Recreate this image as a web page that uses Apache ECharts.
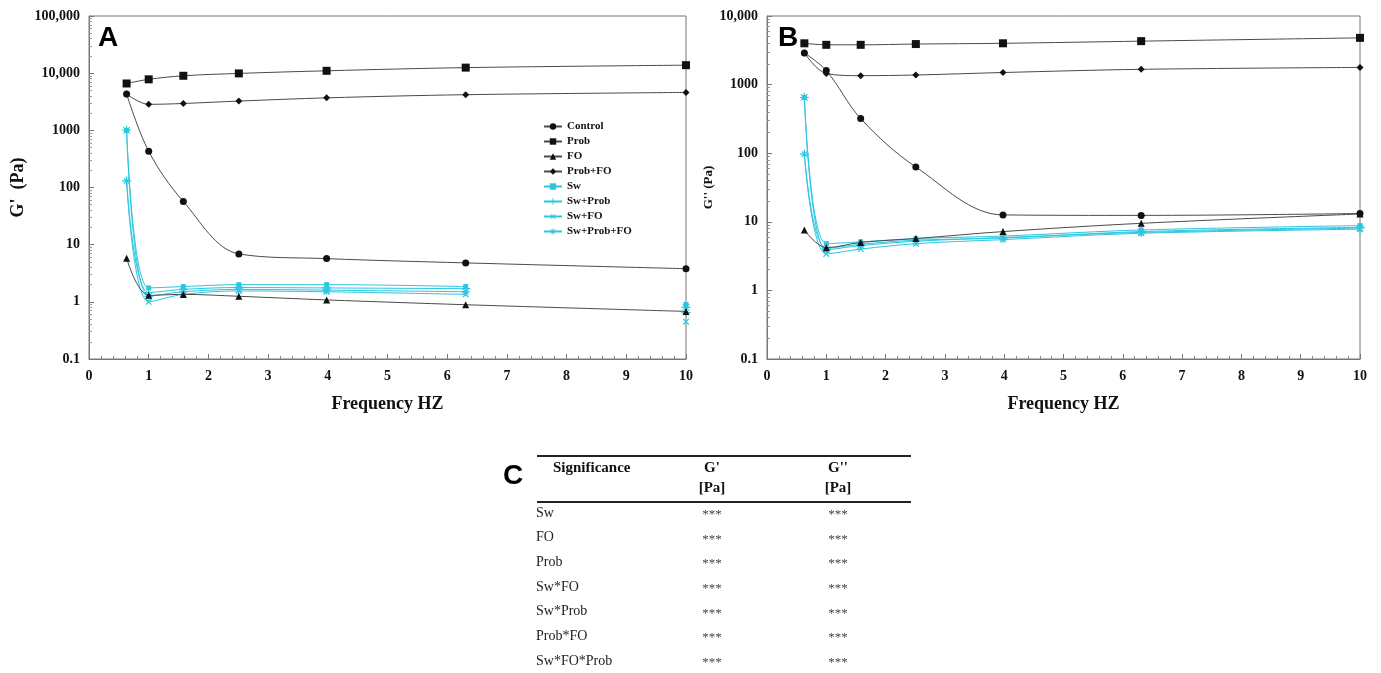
<!DOCTYPE html>
<html lang="en">

<head>
  <meta charset="UTF-8">
  <title>G' and G'' vs frequency</title>
  <style>
    html,
    body {
      margin: 0;
      padding: 0;
      overflow: hidden;
      background: #fff;
    }

    #chart {
      width: 1381px;
      height: 673px;
    }
  </style>
</head>

<body>
  <div id="chart"></div>
</body>
<script src="https://cdn.jsdelivr.net/npm/echarts@6/dist/echarts.min.js"></script>
<script>
  // frequencies (Hz)
  const freq = [0.63, 1.0, 1.58, 2.51, 3.98, 6.31, 10];

  // panel A : G' (Pa)
  const controlA = [4300, 430, 57, 6.9, 5.7, 4.8, 3.8];
  const probA = [6600, 7800, 9000, 9900, 11000, 12500, 13800];
  const foA = [5.8, 1.3, 1.35, 1.25, 1.08, 0.89, 0.68];
  const probFoA = [4300, 2850, 2950, 3250, 3700, 4200, 4600];
  const swA = [1000, 1.75, 1.85, 2.0, 2.0, 1.85, 0.9];
  const swProbA = [130, 1.45, 1.65, 1.78, 1.75, 1.7, 0.65];
  const swFoA = [130, 1.0, 1.35, 1.55, 1.5, 1.35, 0.45];
  const swProbFoA = [1000, 1.25, 1.5, 1.65, 1.6, 1.5, 0.8];

  // panel B : G'' (Pa)
  const controlB = [2900, 1600, 320, 63, 12.6, 12.4, 13.2];
  const probB = [4000, 3800, 3800, 3900, 4000, 4300, 4800];
  const foB = [7.6, 4.2, 5.0, 5.7, 7.2, 9.5, 13];
  const probFoB = [2900, 1450, 1350, 1380, 1500, 1670, 1780];
  const swB = [650, 4.8, 5.1, 5.7, 6.2, 7.6, 8.8];
  const swProbB = [97, 4.1, 4.7, 5.4, 5.8, 7.2, 8.3];
  const swFoB = [97, 3.4, 4.0, 4.8, 5.5, 6.8, 7.8];
  const swProbFoB = [650, 3.9, 4.5, 5.2, 5.9, 7.0, 8.1];

  // in panel A the Sw lines stop at 6.31 Hz, the 10 Hz point stands alone
  const swLinePointsA = 6;

  const seriesNames = ['Control', 'Prob', 'FO', 'Prob+FO', 'Sw', 'Sw+Prob', 'Sw+FO', 'Sw+Prob+FO'];

  // significance table (C)
  const tableHead = ['Significance', "G'", "G''"];
  const tableUnits = ['', '[Pa]', '[Pa]'];
  const tableRows = ['Sw', 'FO', 'Prob', 'Sw*FO', 'Sw*Prob', 'Prob*FO', 'Sw*FO*Prob'];
  const tableGp = ['***', '***', '***', '***', '***', '***', '***'];
  const tableGpp = ['***', '***', '***', '***', '***', '***', '***'];

  const serif = 'Liberation Serif';
  const black = '#111';
  const lineGrey = '#4a4a4a';
  const cyan = '#2cc6e0';

  const plusPath = 'path://M4.3,0H5.7V4.3H10V5.7H5.7V10H4.3V5.7H0V4.3H4.3Z';
  const starPath = 'path://M4.4,0H5.6V10H4.4Z M0,4.4H10V5.6H0Z M1,1.8L1.8,1L9,8.2L8.2,9Z M8.2,1L9,1.8L1.8,9L1,8.2Z';

  const styles = {
    'Control': { symbol: 'circle', size: 7, color: black, line: lineGrey },
    'Prob': { symbol: 'rect', size: 8, color: black, line: lineGrey },
    'FO': { symbol: 'triangle', size: 7, color: black, line: lineGrey },
    'Prob+FO': { symbol: 'diamond', size: 7, color: black, line: lineGrey },
    'Sw': { symbol: 'rect', size: 5, color: cyan, line: cyan },
    'Sw+Prob': { symbol: plusPath, size: 9, color: cyan, line: cyan },
    'Sw+FO': { symbol: plusPath, size: 8, color: cyan, line: cyan, rotate: 45 },
    'Sw+Prob+FO': { symbol: starPath, size: 9, color: cyan, line: cyan }
  };

  function pts(values, breakAt) {
    const out = freq.map((f, i) => [f, values[i]]);
    if (breakAt && breakAt < out.length) {
      out.splice(breakAt, 0, '-');
    }
    return out;
  }

  function makeSeries(name, values, axisIndex, breakAt) {
    const s = styles[name];
    return {
      name: name,
      type: 'line',
      xAxisIndex: axisIndex,
      yAxisIndex: axisIndex,
      data: pts(values, breakAt),
      smooth: 0.35,
      connectNulls: false,
      symbol: s.symbol,
      symbolSize: s.size,
      symbolRotate: s.rotate || 0,
      showAllSymbol: true,
      color: s.color,
      itemStyle: { color: s.color },
      lineStyle: { color: s.line, width: 1 },
      z: s.color === cyan ? 3 : 4
    };
  }

  const panelA = [controlA, probA, foA, probFoA, swA, swProbA, swFoA, swProbFoA];
  const panelB = [controlB, probB, foB, probFoB, swB, swProbB, swFoB, swProbFoB];

  const series = [];
  seriesNames.forEach((n, i) => {
    series.push(makeSeries(n, panelA[i], 0, i >= 4 ? swLinePointsA : 0));
  });
  seriesNames.forEach((n, i) => {
    series.push(makeSeries(n, panelB[i], 1, 0));
  });

  function logLabel(v) {
    if (v >= 10000) return v.toLocaleString('en-US');
    return String(+v.toPrecision(6));
  }

  const axisText = { fontFamily: serif, fontWeight: 'bold', color: '#111' };

  function xAxisOf(i) {
    return {
      gridIndex: i,
      type: 'value',
      min: 0,
      max: 10,
      interval: 1,
      name: 'Frequency HZ',
      nameLocation: 'middle',
      nameGap: 36,
      nameTextStyle: Object.assign({ fontSize: 18 }, axisText),
      axisLine: { lineStyle: { color: '#777' } },
      axisTick: { inside: true, length: 5, lineStyle: { color: '#777' } },
      minorTick: { show: true, splitNumber: 5, length: 3, lineStyle: { color: '#888' } },
      splitLine: { show: false },
      axisLabel: Object.assign({ fontSize: 14, margin: 10 }, axisText)
    };
  }

  function yAxisOf(i, max, name, nameSize, nameGap) {
    return {
      gridIndex: i,
      type: 'log',
      logBase: 10,
      min: 0.1,
      max: max,
      interval: 1,
      name: name,
      nameLocation: 'middle',
      nameGap: nameGap,
      nameRotate: 90,
      nameTextStyle: Object.assign({ fontSize: nameSize }, axisText),
      axisLine: { show: true, lineStyle: { color: '#777' } },
      axisTick: { inside: true, length: 5, lineStyle: { color: '#777' } },
      minorTick: { show: true, splitNumber: 9, length: 3, lineStyle: { color: '#999' } },
      splitLine: { show: false },
      axisLabel: Object.assign({ fontSize: 14, margin: 9, formatter: logLabel }, axisText)
    };
  }

  // table graphics
  const graphic = [
    { type: 'text', left: 98, top: 24, style: { text: 'A', font: 'bold 28px "Liberation Sans"', fill: '#000' } },
    { type: 'text', left: 778, top: 24, style: { text: 'B', font: 'bold 28px "Liberation Sans"', fill: '#000' } },
    { type: 'text', left: 503, top: 462, style: { text: 'C', font: 'bold 28px "Liberation Sans"', fill: '#000' } },
    { type: 'line', shape: { x1: 537, y1: 456, x2: 911, y2: 456 }, style: { stroke: '#222', lineWidth: 2 } },
    { type: 'line', shape: { x1: 537, y1: 502, x2: 911, y2: 502 }, style: { stroke: '#222', lineWidth: 2 } }
  ];
  const colX = [553, 712, 838];
  tableHead.forEach((h, i) => {
    graphic.push({
      type: 'text', x: colX[i], y: 461,
      style: { text: h, font: 'bold 15px "' + serif + '"', fill: '#111', align: i === 0 ? 'left' : 'center' }
    });
    if (tableUnits[i]) {
      graphic.push({
        type: 'text', x: colX[i], y: 481,
        style: { text: tableUnits[i], font: 'bold 15px "' + serif + '"', fill: '#111', align: 'center' }
      });
    }
  });
  tableRows.forEach((r, i) => {
    const y = 506 + i * 24.7;
    graphic.push({ type: 'text', x: 536, y: y, style: { text: r, font: '14px "' + serif + '"', fill: '#222' } });
    graphic.push({ type: 'text', x: colX[1], y: y + 2, style: { text: tableGp[i], font: '13px "' + serif + '"', fill: '#444', align: 'center' } });
    graphic.push({ type: 'text', x: colX[2], y: y + 2, style: { text: tableGpp[i], font: '13px "' + serif + '"', fill: '#444', align: 'center' } });
  });

  const myChart = echarts.init(document.querySelector('#chart'));
  const option = {
    animation: false,
    backgroundColor: '#fff',
    grid: [
      { left: 89, top: 16, width: 597, height: 343, show: true, borderColor: '#777', borderWidth: 1 },
      { left: 767, top: 16, width: 593, height: 343, show: true, borderColor: '#777', borderWidth: 1 }
    ],
    xAxis: [xAxisOf(0), xAxisOf(1)],
    yAxis: [
      yAxisOf(0, 100000, "G'  (Pa)", 18, 62),
      yAxisOf(1, 10000, "G'' (Pa)", 13, 22)
    ],
    legend: {
      orient: 'vertical',
      left: 538,
      top: 116,
      itemGap: 4,
      itemWidth: 18,
      itemHeight: 8,
      data: seriesNames,
      textStyle: { fontFamily: serif, fontWeight: 'bold', fontSize: 11, color: '#111' }
    },
    series: series,
    graphic: graphic
  };
  myChart.setOption(option);
</script>

</html>
